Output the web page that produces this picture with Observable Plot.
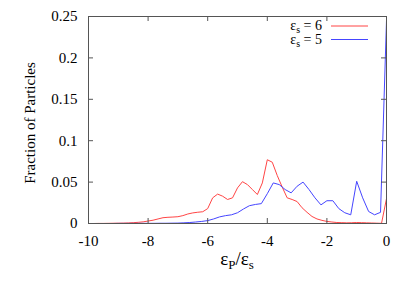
<!DOCTYPE html>
<html><head><meta charset="utf-8">
<script src="https://cdn.jsdelivr.net/npm/d3@7"></script>
<script src="https://cdn.jsdelivr.net/npm/@observablehq/plot@0.6"></script>
<style>
body{margin:0;background:#fff}
svg{display:block}
#chart svg, #chart svg text, #chart svg tspan {font-family: 'Liberation Serif', 'DejaVu Serif', serif !important;}
</style>
</head><body><div id="chart"></div>
<script>
// Series ε_s = 6 : energies -60..0 (ε_p/ε_s in steps of 1/6)
const redValues = [
  0, 0, 0.0001, 0.0001, 0.0002, 0.0003, 0.0004, 0.0005, 0.0007, 0.001,
  0.0014, 0.002, 0.003, 0.004, 0.0055, 0.007, 0.0075, 0.0078, 0.0082, 0.0095,
  0.0115, 0.0128, 0.0136, 0.0142, 0.018, 0.031, 0.0355, 0.033, 0.029, 0.031,
  0.043, 0.0505, 0.047, 0.041, 0.035, 0.049, 0.077, 0.074, 0.058, 0.044,
  0.031, 0.029, 0.0265, 0.019, 0.0135, 0.0085, 0.0055, 0.0038, 0.0025, 0.0018,
  0.0012, 0.001, 0.0008, 0.0009, 0.0012, 0.001, 0.0008, 0.0006, 0.0004, 0.0002,
  0.030
];
// Series ε_s = 5 : energies -50..0 (steps of 1/5)
const blueValues = [
  0, 0, 0, 0, 0, 0.0001, 0.0001, 0.0001, 0.0001, 0.0002,
  0.0002, 0.0002, 0.0003, 0.0003, 0.0004, 0.0005, 0.0008, 0.0012, 0.0018, 0.0025,
  0.0035, 0.0055, 0.008, 0.0095, 0.0105, 0.013, 0.0175, 0.0215, 0.023, 0.024,
  0.036, 0.049, 0.047, 0.041, 0.037, 0.045, 0.050, 0.041, 0.031, 0.0225,
  0.0275, 0.0275, 0.018, 0.013, 0.0105, 0.051, 0.031, 0.0145, 0.0105, 0.0135,
  0.245
];
const xTicks = [-10, -8, -6, -4, -2, 0];
const yTicks = [0, 0.05, 0.1, 0.15, 0.2, 0.25];
const seriesNames = ["6", "5"];
const seriesColors = ["#ff4545", "#4545ff"];

const red = redValues.map((v, i) => ({x: (i - (redValues.length - 1)) / 6, y: v}));
const blue = blueValues.map((v, i) => ({x: (i - (blueValues.length - 1)) / 5, y: v}));

const W = 415, H = 291, mL = 88, mR = 29, mT = 16, mB = 68;
const innerH = H - mT - mB;
const innerW = W - mL - mR;
const font = "'Liberation Serif', 'DejaVu Serif', serif";
const fmtY = d => String(+d.toFixed(2));
const tk = 5;

const plot = Plot.plot({
  width: W, height: H, marginLeft: mL, marginRight: mR, marginTop: mT, marginBottom: mB,
  style: {fontFamily: font, background: "#fff", color: "#000"},
  x: {domain: [-10, 0]},
  y: {domain: [0, 0.25]},
  marks: [
    Plot.lineY(red, {x: "x", y: "y", stroke: seriesColors[0], strokeWidth: 1}),
    Plot.lineY(blue, {x: "x", y: "y", stroke: seriesColors[1], strokeWidth: 1}),
    // inward tick marks on all four sides
    Plot.tickX(xTicks, {x: d => d, insetTop: innerH - tk, stroke: "#555"}),
    Plot.tickX(xTicks, {x: d => d, insetBottom: innerH - tk, stroke: "#555"}),
    Plot.tickY(yTicks, {y: d => d, insetRight: innerW - tk, stroke: "#555"}),
    Plot.tickY(yTicks, {y: d => d, insetLeft: innerW - tk, stroke: "#555"}),
    Plot.axisX(xTicks, {tickSize: 0, tickPadding: 12, tickFormat: d => String(d), fontSize: 15, label: null}),
    Plot.axisY(yTicks, {tickSize: 0, tickPadding: 11, tickFormat: fmtY, fontSize: 15, label: null}),
    Plot.frame({stroke: "#555", strokeWidth: 1}),
    Plot.text(["Fraction of Particles"], {frameAnchor: "left", dx: -58, dy: 3, rotate: -90, textAnchor: "middle", fontSize: 15, fill: "#000"})
  ]
});
document.getElementById("chart").appendChild(plot);

const svg = d3.select(plot);
// x-axis label ε_P/ε_s
const xl = svg.append("text").attr("x", mL + innerW / 2).attr("y", 265)
  .attr("text-anchor", "middle").attr("font-size", 19).attr("fill", "#000");
xl.append("tspan").text("ε");
xl.append("tspan").attr("font-size", 13).attr("dy", 4).text("P");
xl.append("tspan").attr("dy", -4).text("/ε");
xl.append("tspan").attr("font-size", 13).attr("dy", 4).text("s");

// legend
seriesNames.forEach((n, i) => {
  const y = 30 + i * 13.5;
  const t = svg.append("text").attr("x", 322).attr("y", y).attr("text-anchor", "end")
    .attr("font-size", 14).attr("fill", "#000");
  t.append("tspan").text("ε");
  t.append("tspan").attr("font-size", 10).attr("dy", 3).text("s");
  t.append("tspan").attr("dy", -3).text(" = " + n);
  svg.append("line").attr("x1", 331).attr("x2", 368).attr("y1", y - 4).attr("y2", y - 4)
    .attr("stroke", seriesColors[i]).attr("stroke-width", 1);
});
</script></body></html>
